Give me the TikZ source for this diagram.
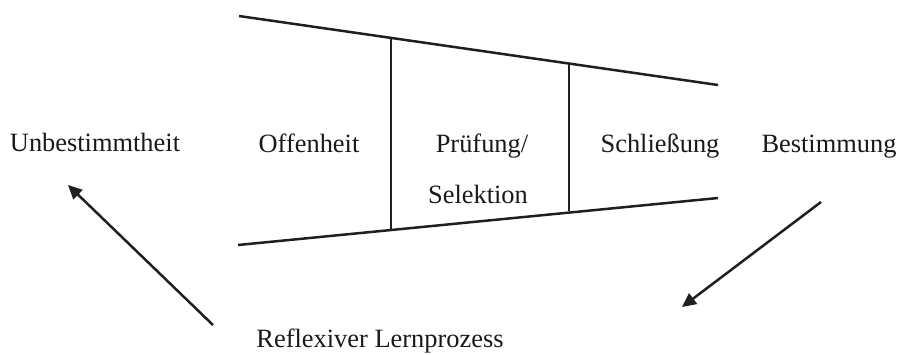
\documentclass[tikz,border=0pt]{standalone}
\usepackage{fontspec}
\setmainfont{Liberation Serif}
\usetikzlibrary{arrows.meta}
\begin{document}
\begin{tikzpicture}[x=1pt,y=-1pt,
  lbl/.style={anchor=base,inner sep=0pt,font=\fontsize{26.4}{30}\selectfont,text=black!90},
  edge/.style={line width=2.5pt,draw=black!88},
  arr/.style={edge,-{Triangle[length=14pt,width=13pt]}}]
\useasboundingbox (0,0) rectangle (899,354);
% frame lines
\coordinate (tl) at (239,16);
\coordinate (tr) at (718,85);
\coordinate (bl) at (238,245);
\coordinate (br) at (718,198);
\coordinate (v1t) at (391,37);
\coordinate (v1b) at (391,230);
\coordinate (v2t) at (569,63);
\coordinate (v2b) at (569,211);
\draw[edge] (tl) -- (tr);
\draw[edge] (bl) -- (br);
\draw[edge] (v1t) -- (v1b);
\draw[edge] (v2t) -- (v2b);
% labels
\node[lbl] (unb) at (95,151) {Unbestimmtheit};
\node[lbl] (off) at (309,152) {Offenheit};
\node[lbl] (pru) at (482,152) {Prüfung/};
\node[lbl] (sel) at (478,203) {Selektion};
\node[lbl] (sch) at (660,152) {Schließung};
\node[lbl] (bes) at (829,152) {Bestimmung};
\node[lbl] (ref) at (380,347) {Reflexiver Lernprozess};
% arrows
\coordinate (a1s) at (213,325);
\coordinate (a1e) at (68,185);
\coordinate (a2s) at (821,202);
\coordinate (a2e) at (682,307);
\draw[arr] (a1s) -- (a1e);
\draw[arr] (a2s) -- (a2e);
\end{tikzpicture}
\end{document}
